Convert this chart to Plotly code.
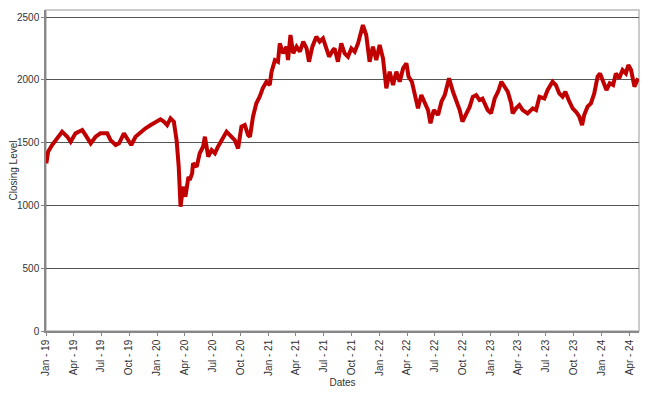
import plotly.graph_objects as go

dates = [
    "2019-01-02", "2019-01-08", "2019-01-21", "2019-02-07", "2019-02-23", "2019-03-12", "2019-03-23",
    "2019-04-08", "2019-04-30", "2019-05-11", "2019-05-28", "2019-06-13", "2019-06-29", "2019-07-21",
    "2019-08-01", "2019-08-18", "2019-08-29", "2019-09-14", "2019-09-25", "2019-10-08", "2019-10-22",
    "2019-11-08", "2019-11-24", "2019-12-11", "2019-12-27", "2020-01-12", "2020-01-23", "2020-02-03",
    "2020-02-14", "2020-02-25", "2020-03-05", "2020-03-12", "2020-03-18", "2020-03-26", "2020-04-03",
    "2020-04-13", "2020-04-17", "2020-04-25", "2020-04-28", "2020-05-10", "2020-05-20", "2020-05-31",
    "2020-06-06", "2020-06-17", "2020-06-28", "2020-07-09", "2020-07-19", "2020-08-05", "2020-08-16",
    "2020-08-27", "2020-09-12", "2020-09-23", "2020-10-04", "2020-10-15", "2020-10-26", "2020-11-01",
    "2020-11-11", "2020-11-22", "2020-12-03", "2020-12-13", "2020-12-25", "2021-01-05", "2021-01-11",
    "2021-01-22", "2021-02-01", "2021-02-07", "2021-02-18", "2021-03-01", "2021-03-06", "2021-03-14",
    "2021-03-23", "2021-04-03", "2021-04-14", "2021-04-25", "2021-05-06", "2021-05-14", "2021-05-25",
    "2021-06-07", "2021-06-18", "2021-06-29", "2021-07-10", "2021-07-19", "2021-08-01", "2021-08-06",
    "2021-08-17", "2021-08-28", "2021-09-08", "2021-09-19", "2021-09-30", "2021-10-11", "2021-10-22",
    "2021-11-07", "2021-11-18", "2021-11-29", "2021-12-10", "2021-12-21", "2022-01-01", "2022-01-12",
    "2022-01-23", "2022-02-03", "2022-02-14", "2022-02-25", "2022-03-08", "2022-03-19", "2022-03-30",
    "2022-04-06", "2022-04-17", "2022-04-26", "2022-05-07", "2022-05-18", "2022-05-29", "2022-06-09",
    "2022-06-17", "2022-06-28", "2022-07-12", "2022-07-23", "2022-08-03", "2022-08-17", "2022-08-30",
    "2022-09-10", "2022-09-21", "2022-09-30", "2022-10-13", "2022-10-24", "2022-11-03", "2022-11-14",
    "2022-11-25", "2022-12-05", "2022-12-22", "2023-01-02", "2023-01-14", "2023-01-25", "2023-02-05",
    "2023-02-16", "2023-02-26", "2023-03-09", "2023-03-14", "2023-03-25", "2023-04-05", "2023-04-16",
    "2023-05-02", "2023-05-19", "2023-05-30", "2023-06-10", "2023-06-26", "2023-07-07", "2023-07-23",
    "2023-08-03", "2023-08-14", "2023-08-25", "2023-09-03", "2023-09-14", "2023-09-27", "2023-10-08",
    "2023-10-19", "2023-10-28", "2023-11-04", "2023-11-15", "2023-11-26", "2023-12-07", "2023-12-18",
    "2023-12-26", "2024-01-06", "2024-01-16", "2024-01-27", "2024-02-07", "2024-02-16", "2024-02-27",
    "2024-03-09", "2024-03-20", "2024-03-28", "2024-04-06", "2024-04-17", "2024-04-24", "2024-04-29",
]

closing = [
    1335, 1427, 1481, 1534, 1587, 1547, 1507,
    1574, 1600, 1560, 1494, 1547, 1574, 1574,
    1520, 1481, 1494, 1574, 1534, 1481, 1547,
    1587, 1614, 1640, 1667, 1685, 1667, 1640,
    1693, 1667, 1520, 1308, 990, 1149, 1069,
    1228, 1202, 1255, 1335, 1308, 1415, 1467,
    1547, 1388, 1441, 1415, 1467, 1547, 1587,
    1560, 1520, 1454, 1627, 1640, 1560, 1547,
    1706, 1813, 1865, 1932, 1985, 1958, 2065,
    2157, 2144, 2290, 2211, 2264, 2157, 2357,
    2211, 2264, 2224, 2304, 2250, 2144, 2264,
    2343, 2304, 2330, 2250, 2184, 2237, 2250,
    2144, 2290, 2211, 2184, 2250, 2224, 2290,
    2436, 2357, 2144, 2264, 2157, 2277, 2171,
    1932, 2065, 1958, 2065, 1985, 2091, 2131,
    2025, 1985, 1892, 1773, 1879, 1813, 1759,
    1654, 1759, 1720, 1826, 1879, 2012, 1905,
    1839, 1759, 1667, 1733, 1786, 1865, 1879,
    1839, 1850, 1759, 1733, 1852, 1905, 1985,
    1945, 1905, 1813, 1733, 1773, 1799, 1759,
    1733, 1773, 1759, 1865, 1852, 1919, 1985,
    1958, 1892, 1865, 1905, 1839, 1773, 1746,
    1706, 1640, 1720, 1786, 1813, 1892, 2025,
    2051, 1972, 1919, 1972, 1958, 2051, 2012,
    2078, 2051, 2118, 2078, 1945, 1999, 2012,
]

y_ticks = [0, 500, 1000, 1500, 2000, 2500]

fig = go.Figure()
fig.add_trace(go.Scatter(
    x=dates, y=closing, mode="lines",
    line=dict(color="#c00000", width=4),
    hoverinfo="x+y", showlegend=False,
))

font_family = "Liberation Sans, Arial, sans-serif"

fig.update_layout(
    width=650, height=395,
    margin=dict(l=38, r=19, t=2, b=72),
    paper_bgcolor="white", plot_bgcolor="white",
    font=dict(family=font_family, size=10, color="#333333"),
    xaxis=dict(
        type="date", automargin=False,
        range=["2019-01-01", "2024-05-02"],
        tick0="2019-01-01", dtick="M3",
        tickformat="%b - %y", tickangle=-90,
        showgrid=False, zeroline=False,
        showline=True, linecolor="#888888", linewidth=1.5,
        ticks="outside", ticklen=3, tickcolor="#888888",
        tickfont=dict(size=10, color="#333333"),
        title=dict(text="Dates", font=dict(size=10, color="#333333"), standoff=4),
    ),
    yaxis=dict(
        range=[0, 2556], automargin=False,
        tickvals=y_ticks,
        showgrid=True, gridcolor="#555555", gridwidth=1,
        zeroline=False,
        showline=True, linecolor="#888888", linewidth=1.5,
        ticks="outside", ticklen=3, tickcolor="#888888",
        tickfont=dict(size=10, color="#333333"),
        title=dict(text="Closing Level", font=dict(size=10, color="#333333"), standoff=4),
    ),
    shapes=[dict(type="rect", xref="paper", yref="paper", x0=0, x1=1, y0=0, y1=1,
                 line=dict(color="#bbbbbb", width=1.5), fillcolor="rgba(0,0,0,0)", layer="below")],
)

fig.write_html("out.html")
